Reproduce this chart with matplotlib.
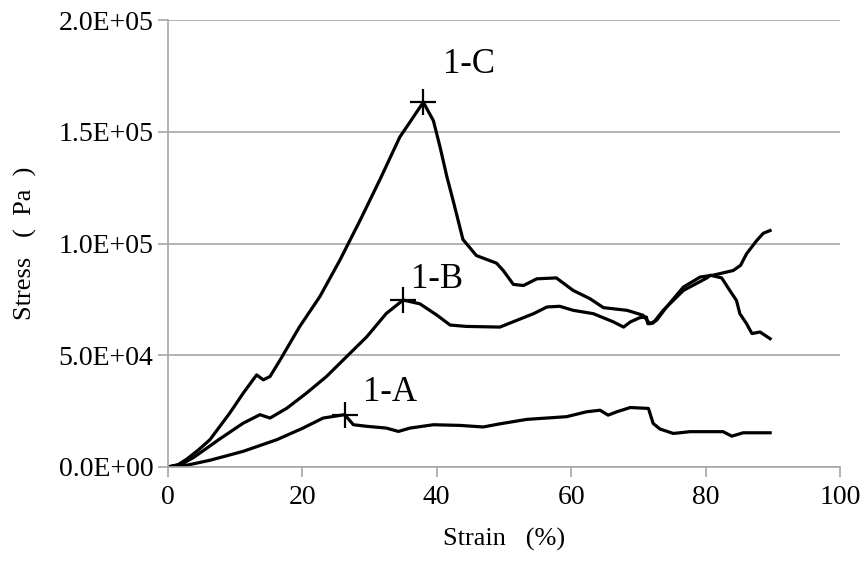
# Stress-strain curves of samples 1-A, 1-B, 1-C
import matplotlib.pyplot as plt
from matplotlib.ticker import FuncFormatter

# 1-A
strain_a = [0, 3.0, 6.25, 11.2, 16.2, 20.1, 23.1, 26.3, 27.6, 29.6, 32.5, 34.3, 36.0, 39.5,
            43.5, 46.9, 49.4, 53.4, 59.3, 62.3, 64.3, 65.5, 66.8, 68.8, 71.5, 72.2,
            73.2, 75.2, 77.7, 80.7, 82.6, 83.9, 85.6, 89.6]
stress_a = [0, 900, 3000, 7000, 12200, 17400, 21900, 23400, 18900, 18200, 17400, 15900, 17400, 18900,
            18600, 17900, 19300, 21300, 22500, 24700, 25400, 23200, 24700, 26600, 26200, 19500,
            17000, 15000, 15800, 15800, 15800, 13800, 15300, 15300]

# 1-B
strain_b = [0, 2.0, 3.8, 7.7, 11.2, 13.7, 15.2, 17.7, 20.6, 23.6, 26.6, 29.6, 32.5, 35.0, 37.5,
            40.0, 42.0, 44.4, 49.4, 51.9, 54.4, 56.4, 58.3, 60.3, 63.3, 66.3, 67.8, 68.8,
            70.2, 71.2, 71.4, 72.2, 73.7, 76.7, 80.2, 80.7, 82.4, 83.6, 84.6, 85.1, 86.1,
            86.9, 88.1, 88.8, 89.6]
stress_b = [0, 1200, 4200, 12500, 19600, 23400, 21900, 26300, 33000, 40500, 49400, 58300, 68700, 74700, 73000,
            68000, 63500, 62900, 62600, 65600, 68600, 71600, 71900, 70100, 68600, 64900, 62600, 64900,
            66800, 67100, 64100, 64400, 70100, 79000, 84600, 85800, 84600, 79000, 74500, 68600, 64100,
            59700, 60400, 59000, 57400]

# 1-C
strain_c = [0, 1.5, 2.8, 4.5, 6.25, 9.2, 11.2, 13.2, 14.2, 15.2, 16.7, 19.6, 22.6, 25.6, 28.6, 31.5,
            34.5, 36.5, 38.0, 39.5, 40.5, 41.5, 42.5, 43.9, 45.9, 48.9, 49.9, 51.4, 52.9,
            54.9, 57.8, 60.3, 62.8, 64.8, 68.3, 70.7, 71.7, 72.7, 74.2, 76.7, 79.2, 81.1,
            82.1, 84.1, 85.2, 86.1, 87.6, 88.6, 89.6]
stress_c = [0, 1000, 3500, 7500, 12200, 24100, 33000, 41200, 39000, 40500, 47900, 62800, 76200, 92600, 110400, 128300,
            147600, 156500, 163200, 155000, 143100, 130000, 118500, 101800, 94600, 91200, 87900, 81700, 81200,
            84200, 84600, 79000, 75300, 71300, 70100, 67900, 64100, 65600, 71600, 80500, 85000, 85800,
            86500, 87900, 90200, 95400, 101300, 104600, 105800]

peaks_x = [26.3, 35.0, 38.0]
peaks_y = [23400, 74700, 163200]
names = ['1-A', '1-B', '1-C']
name_x = [29.0, 36.2, 40.9]
name_y = [29600, 79900, 176500]

plt.rcParams['font.family'] = ['Liberation Serif', 'DejaVu Serif']

fig = plt.figure(figsize=(8.61, 5.61), dpi=100)
ax = fig.add_axes([0.195, 0.1676, 0.7806, 0.7967])

for xs, ys in [(strain_a, stress_a), (strain_b, stress_b), (strain_c, stress_c)]:
    ax.plot(xs, ys, color='black', lw=2.3, solid_joinstyle='round')

ax.plot(peaks_x, peaks_y, ls='none', marker='+', ms=19, mew=1.6, color='black')
for n, x, y in zip(names, name_x, name_y):
    ax.text(x, y, n, fontsize=25, ha='left', va='baseline')

ax.set_xlim(0, 100)
ax.set_ylim(0, 200000)
ax.set_xticks([0, 20, 40, 60, 80, 100])
ax.set_yticks([0, 50000, 100000, 150000, 200000])
ax.yaxis.set_major_formatter(FuncFormatter(lambda v, p: f'{v:.1E}'))
ax.grid(axis='y', color='#a6a6a6', lw=1.2)
ax.set_axisbelow(True)

for s in ['top', 'right']:
    ax.spines[s].set_visible(False)
for s in ['left', 'bottom']:
    ax.spines[s].set_color('#a6a6a6')
    ax.spines[s].set_linewidth(1.2)
ax.tick_params(colors='#a6a6a6', labelcolor='black', labelsize=20, length=7, width=1.2)
ax.tick_params(axis='x', pad=6)

ax.set_xlabel('Strain   (%)', fontsize=19, labelpad=13)
ax.set_ylabel('Stress   (  Pa  )', fontsize=19, labelpad=15)

fig.savefig('out.png', dpi=100)
